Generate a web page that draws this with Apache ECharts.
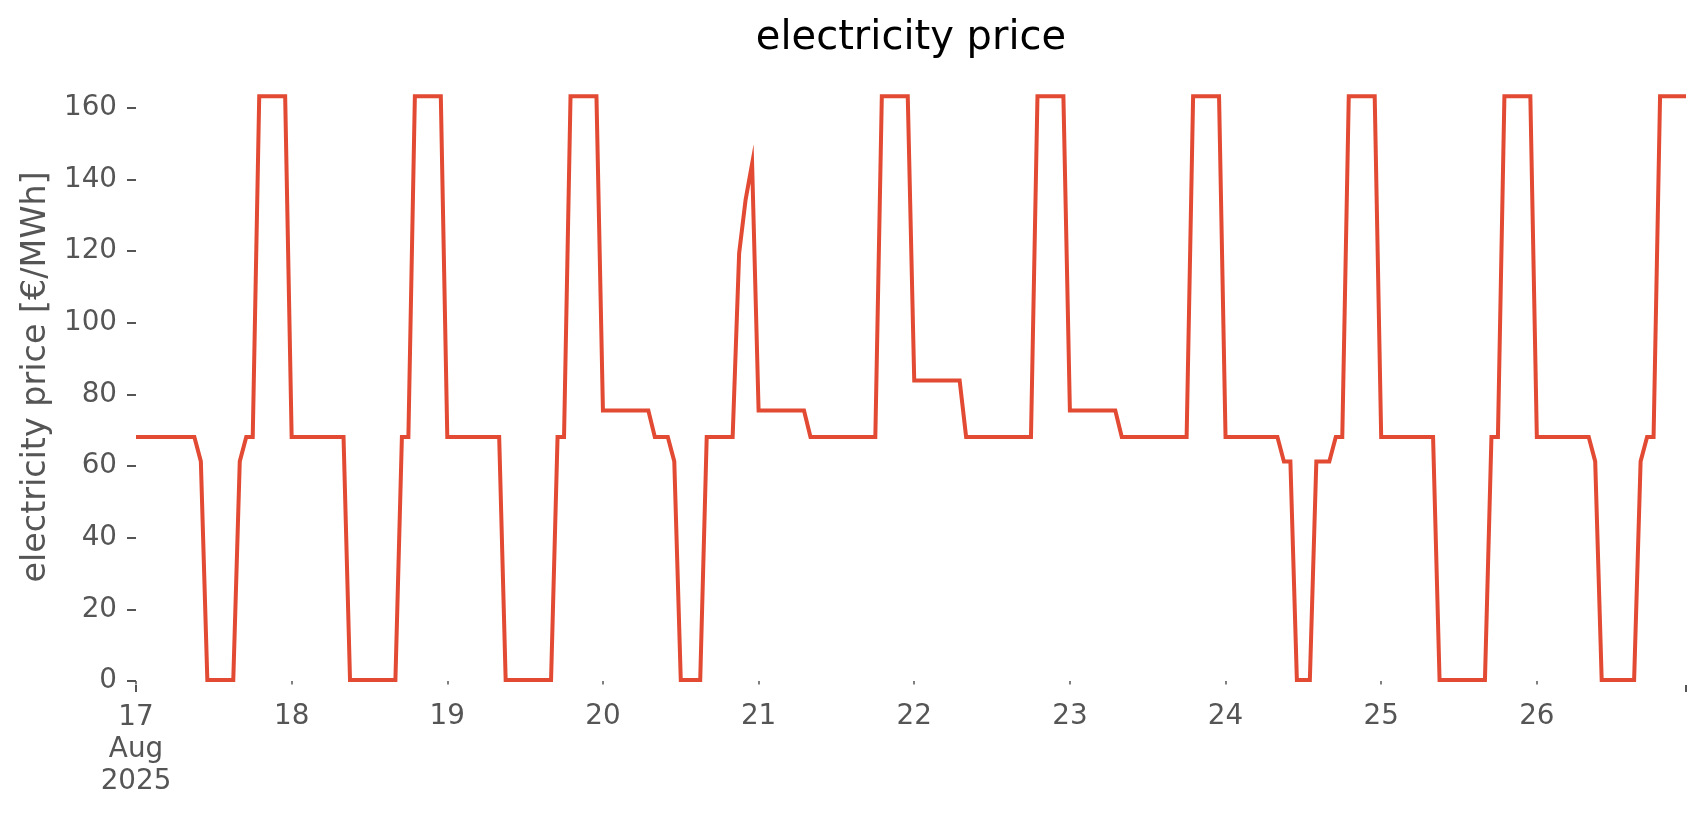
<!DOCTYPE html>
<html>
<head>
<meta charset="utf-8">
<title>electricity price</title>
<script src="https://cdn.jsdelivr.net/npm/echarts@6/dist/echarts.min.js"></script>
<style>
  html, body { margin: 0; padding: 0; background: #fff; }
  #chart { width: 1706px; height: 815px; }
</style>
</head>
<body>
<div id="chart"></div>
<script>
// hourly electricity price in €/MWh, one array per day (00:00 .. 23:00)
const aug17 = [68.1, 68.1, 68.1, 68.1, 68.1, 68.1, 68.1, 68.1, 68.1, 68.1, 61.3, 0.3, 0.3, 0.3, 0.3, 0.3, 61.3, 68.1, 68.1, 163.2, 163.2, 163.2, 163.2, 163.2]
const aug18 = [68.1, 68.1, 68.1, 68.1, 68.1, 68.1, 68.1, 68.1, 68.1, 0.3, 0.3, 0.3, 0.3, 0.3, 0.3, 0.3, 0.3, 68.1, 68.1, 163.2, 163.2, 163.2, 163.2, 163.2]
const aug19 = [68.1, 68.1, 68.1, 68.1, 68.1, 68.1, 68.1, 68.1, 68.1, 0.3, 0.3, 0.3, 0.3, 0.3, 0.3, 0.3, 0.3, 68.1, 68.1, 163.2, 163.2, 163.2, 163.2, 163.2]
const aug20 = [75.5, 75.5, 75.5, 75.5, 75.5, 75.5, 75.5, 75.5, 68.1, 68.1, 68.1, 61.3, 0.3, 0.3, 0.3, 0.3, 68.1, 68.1, 68.1, 68.1, 68.1, 119.4, 134.4, 144.4]
const aug21 = [75.5, 75.5, 75.5, 75.5, 75.5, 75.5, 75.5, 75.5, 68.1, 68.1, 68.1, 68.1, 68.1, 68.1, 68.1, 68.1, 68.1, 68.1, 68.1, 163.2, 163.2, 163.2, 163.2, 163.2]
const aug22 = [83.9, 83.9, 83.9, 83.9, 83.9, 83.9, 83.9, 83.9, 68.1, 68.1, 68.1, 68.1, 68.1, 68.1, 68.1, 68.1, 68.1, 68.1, 68.1, 163.2, 163.2, 163.2, 163.2, 163.2]
const aug23 = [75.5, 75.5, 75.5, 75.5, 75.5, 75.5, 75.5, 75.5, 68.1, 68.1, 68.1, 68.1, 68.1, 68.1, 68.1, 68.1, 68.1, 68.1, 68.1, 163.2, 163.2, 163.2, 163.2, 163.2]
const aug24 = [68.1, 68.1, 68.1, 68.1, 68.1, 68.1, 68.1, 68.1, 68.1, 61.3, 61.3, 0.3, 0.3, 0.3, 61.3, 61.3, 61.3, 68.1, 68.1, 163.2, 163.2, 163.2, 163.2, 163.2]
const aug25 = [68.1, 68.1, 68.1, 68.1, 68.1, 68.1, 68.1, 68.1, 68.1, 0.3, 0.3, 0.3, 0.3, 0.3, 0.3, 0.3, 0.3, 68.1, 68.1, 163.2, 163.2, 163.2, 163.2, 163.2]
const aug26 = [68.1, 68.1, 68.1, 68.1, 68.1, 68.1, 68.1, 68.1, 68.1, 61.3, 0.3, 0.3, 0.3, 0.3, 0.3, 0.3, 61.3, 68.1, 68.1, 163.2, 163.2, 163.2, 163.2, 163.2]

const days = [17, 18, 19, 20, 21, 22, 23, 24, 25, 26]
const dayPrices = [aug17, aug18, aug19, aug20, aug21, aug22, aug23, aug24, aug25, aug26]
const yTicks = [0, 20, 40, 60, 80, 100, 120, 140, 160]

const FONT = 'DejaVu Sans'
const GREY = '#555555'
const DAY = 24 * 3600 * 1000

const points = []
days.forEach((d, i) => {
  dayPrices[i].forEach((v, h) => points.push([new Date(2025, 7, d, h).getTime(), v]))
})
const tStart = points[0][0]
const tEnd = points[points.length - 1][0]

const chart = echarts.init(document.getElementById('chart'))

chart.setOption({
  animation: false,
  backgroundColor: '#fff',
  title: {
    text: 'electricity price',
    left: 906,
    top: 14,
    textAlign: 'center',
    textStyle: { fontFamily: FONT, fontSize: 40, fontWeight: 'normal', color: '#000' }
  },
  grid: { left: 136, right: 20, top: 67, bottom: 134, outerBoundsMode: 'none' },
  xAxis: [
    {
      // minor ticks, one per day
      type: 'time',
      position: 'bottom',
      min: tStart,
      max: tEnd,
      minInterval: DAY,
      maxInterval: DAY,
      offset: 4,
      axisLine: { show: false },
      splitLine: { show: false },
      axisTick: { length: 3.5, lineStyle: { color: GREY, width: 1.5 } },
      axisLabel: {
        margin: 17.5,
        fontFamily: FONT,
        fontSize: 27.8,
        color: GREY,
        showMinLabel: false,
        showMaxLabel: false,
        hideOverlap: false,
        formatter: v => (v === tStart || v === tEnd) ? '' : String(new Date(v).getDate())
      }
    },
    {
      // major ticks at the two ends of the range (0 = start, 1 = end)
      type: 'value',
      position: 'bottom',
      min: 0,
      max: 1,
      interval: 1,
      offset: 4,
      axisLine: { show: false },
      splitLine: { show: false },
      axisTick: { show: true, length: 7, lineStyle: { color: GREY, width: 2 } },
      axisLabel: {
        margin: 16.5,
        fontFamily: FONT,
        fontSize: 27.8,
        lineHeight: 32,
        color: GREY,
        formatter: v => {
          if (v !== 0) return ''
          const d = new Date(tStart)
          return d.getDate() + '\nAug\n' + d.getFullYear()
        }
      }
    }
  ],
  yAxis: {
    type: 'value',
    min: 0,
    max: 171.4,
    name: 'electricity price [€/MWh]',
    nameLocation: 'middle',
    nameGap: 82,
    nameTextStyle: { fontFamily: FONT, fontSize: 33.4, color: GREY, padding: [0, 6, 0, 0] },
    axisLine: { show: false },
    splitLine: { show: false },
    axisTick: { show: true, customValues: yTicks, length: 9, lineStyle: { color: GREY, width: 2 } },
    axisLabel: { customValues: yTicks, margin: 19, fontFamily: FONT, fontSize: 27.8, color: GREY }
  },
  series: [
    {
      name: 'electricity price',
      type: 'line',
      xAxisIndex: 0,
      data: points,
      showSymbol: false,
      lineStyle: { color: '#E24A33', width: 4, join: 'miter' },
      itemStyle: { color: '#E24A33' }
    }
  ]
})

window.addEventListener('resize', () => chart.resize())
</script>
</body>
</html>
